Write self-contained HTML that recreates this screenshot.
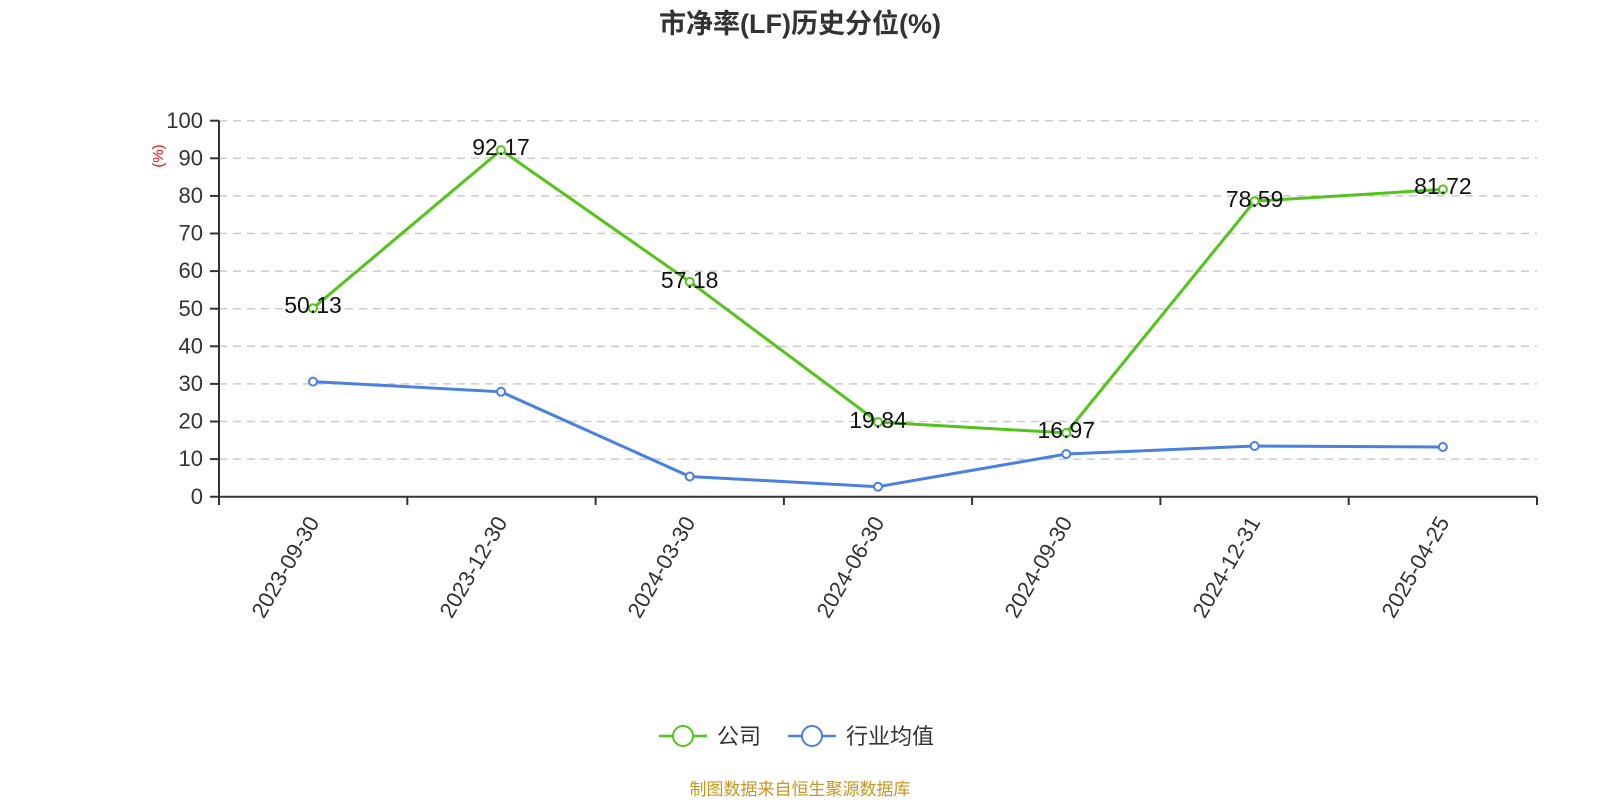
<!DOCTYPE html>
<html><head><meta charset="utf-8"><style>body{margin:0;background:#fff}svg{display:block;font-family:"Liberation Sans","Noto Sans CJK SC",sans-serif}</style></head><body>
<svg width="1600" height="800" viewBox="0 0 1600 800">
<text x="800" y="33" text-anchor="middle" font-size="27" font-weight="bold" fill="#333">市净率(LF)历史分位(%)</text>
<g stroke="#ccc" stroke-width="1.5" stroke-dasharray="8,6">
<line x1="219" x2="1537" y1="120.7" y2="120.7"/><line x1="219" x2="1537" y1="158.3" y2="158.3"/><line x1="219" x2="1537" y1="195.9" y2="195.9"/><line x1="219" x2="1537" y1="233.5" y2="233.5"/><line x1="219" x2="1537" y1="271.1" y2="271.1"/><line x1="219" x2="1537" y1="308.7" y2="308.7"/><line x1="219" x2="1537" y1="346.3" y2="346.3"/><line x1="219" x2="1537" y1="383.9" y2="383.9"/><line x1="219" x2="1537" y1="421.5" y2="421.5"/><line x1="219" x2="1537" y1="459.1" y2="459.1"/>
</g>
<g stroke="#333" stroke-width="2">
<line x1="219" x2="219" y1="120.7" y2="497"/><line x1="210" x2="1537" y1="496.7" y2="496.7"/>
<line x1="210" x2="219" y1="120.7" y2="120.7"/><line x1="210" x2="219" y1="158.3" y2="158.3"/><line x1="210" x2="219" y1="195.9" y2="195.9"/><line x1="210" x2="219" y1="233.5" y2="233.5"/><line x1="210" x2="219" y1="271.1" y2="271.1"/><line x1="210" x2="219" y1="308.7" y2="308.7"/><line x1="210" x2="219" y1="346.3" y2="346.3"/><line x1="210" x2="219" y1="383.9" y2="383.9"/><line x1="210" x2="219" y1="421.5" y2="421.5"/><line x1="210" x2="219" y1="459.1" y2="459.1"/>
<line x1="219" x2="219" y1="497" y2="505"/><line x1="407.3" x2="407.3" y1="497" y2="505"/><line x1="595.6" x2="595.6" y1="497" y2="505"/><line x1="783.9" x2="783.9" y1="497" y2="505"/><line x1="972.1" x2="972.1" y1="497" y2="505"/><line x1="1160.4" x2="1160.4" y1="497" y2="505"/><line x1="1348.7" x2="1348.7" y1="497" y2="505"/><line x1="1537" x2="1537" y1="497" y2="505"/>
</g>
<g font-size="22" fill="#333" text-anchor="end">
<text x="203" y="128">100</text><text x="203" y="165.5">90</text><text x="203" y="203">80</text><text x="203" y="240.5">70</text><text x="203" y="278">60</text><text x="203" y="316">50</text><text x="203" y="353.5">40</text><text x="203" y="391">30</text><text x="203" y="428.5">20</text><text x="203" y="466">10</text><text x="203" y="504">0</text>
</g>
<text transform="translate(163,156) rotate(-90)" text-anchor="middle" font-size="15" fill="red">(%)</text>
<g font-size="22" fill="#333" text-anchor="end">
<text transform="translate(320,522) rotate(-60)">2023-09-30</text>
<text transform="translate(508,522) rotate(-60)">2023-12-30</text>
<text transform="translate(696,522) rotate(-60)">2024-03-30</text>
<text transform="translate(885,522) rotate(-60)">2024-06-30</text>
<text transform="translate(1073,522) rotate(-60)">2024-09-30</text>
<text transform="translate(1261,522) rotate(-60)">2024-12-31</text>
<text transform="translate(1450,522) rotate(-60)">2025-04-25</text>
</g>
<polyline fill="none" stroke="#52c41a" stroke-width="3" points="313,308.2 501,150.1 689.7,281.7 878,422.1 1066.3,432.9 1254.6,201.2 1442.9,189.4"/>
<polyline fill="none" stroke="#4a80e0" stroke-width="3" points="313,381.6 501,391.8 689.7,476.5 878,486.7 1066.3,454 1254.6,446 1442.9,447"/>
<g fill="#fff" stroke="#52c41a" stroke-width="2"><circle cx="313" cy="308.2" r="4"/><circle cx="501" cy="150.1" r="4"/><circle cx="689.7" cy="281.7" r="4"/><circle cx="878" cy="422.1" r="4"/><circle cx="1066.3" cy="432.9" r="4"/><circle cx="1254.6" cy="201.2" r="4"/><circle cx="1442.9" cy="189.4" r="4"/></g>
<g fill="#fff" stroke="#4a80e0" stroke-width="2"><circle cx="313" cy="381.6" r="4"/><circle cx="501" cy="391.8" r="4"/><circle cx="689.7" cy="476.5" r="4"/><circle cx="878" cy="486.7" r="4"/><circle cx="1066.3" cy="454" r="4"/><circle cx="1254.6" cy="446" r="4"/><circle cx="1442.9" cy="447" r="4"/></g>
<g font-size="23" fill="#111" text-anchor="middle">
<text x="313" y="313">50.13</text><text x="501" y="155">92.17</text><text x="689.7" y="288">57.18</text><text x="878" y="428">19.84</text><text x="1066.3" y="438">16.97</text><text x="1254.6" y="207">78.59</text><text x="1442.9" y="194">81.72</text>
</g>
<line x1="659" x2="707" y1="736" y2="736" stroke="#52c41a" stroke-width="2.5"/><circle cx="683" cy="736" r="10" fill="#fff" stroke="#52c41a" stroke-width="2"/>
<text x="717" y="744" font-size="22" fill="#333">公司</text>
<line x1="788" x2="836" y1="736" y2="736" stroke="#4a80e0" stroke-width="2.5"/><circle cx="812" cy="736" r="10" fill="#fff" stroke="#4a80e0" stroke-width="2"/>
<text x="846" y="744" font-size="22" fill="#333">行业均值</text>
<text x="800" y="795" text-anchor="middle" font-size="17" fill="#c8961e">制图数据来自恒生聚源数据库</text>
</svg>
</body></html>
